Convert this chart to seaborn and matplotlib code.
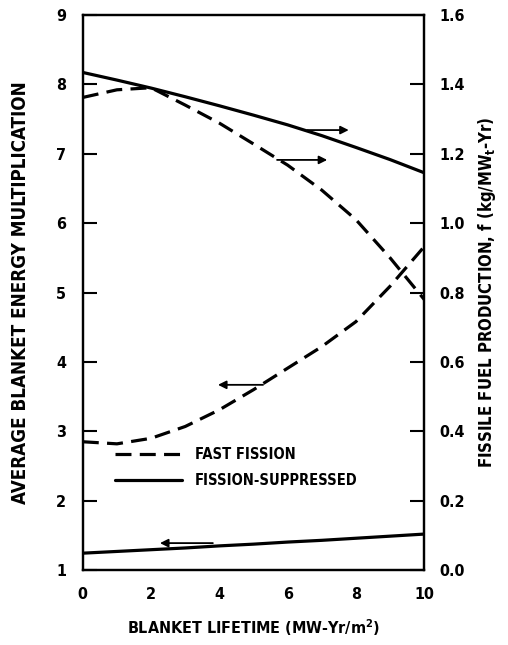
import matplotlib
matplotlib.use('Agg')
import matplotlib.pyplot as plt
import seaborn as sns
from matplotlib.lines import Line2D

# Data
lifetime = [0, 1, 2, 3, 4, 5, 6, 7, 8, 9, 10]

# fast fission blanket
ff_mult = [2.85, 2.82, 2.90, 3.07, 3.31, 3.60, 3.91, 4.22, 4.58, 5.09, 5.66]
ff_fuel = [1.362, 1.384, 1.39, 1.34, 1.288, 1.228, 1.167, 1.095, 1.01, 0.90, 0.78]

# fission-suppressed blanket
fs_mult = [1.245, 1.27, 1.295, 1.32, 1.35, 1.375, 1.405, 1.43, 1.46, 1.49, 1.52]
fs_fuel = [1.434, 1.412, 1.389, 1.364, 1.338, 1.311, 1.283, 1.252, 1.218, 1.183, 1.145]

left_ticks = [1, 2, 3, 4, 5, 6, 7, 8, 9]
right_ticks = [0.0, 0.2, 0.4, 0.6, 0.8, 1.0, 1.2, 1.4, 1.6]
x_ticks = [0, 2, 4, 6, 8, 10]

# arrows pointing to the axis each curve belongs to: (x0, x1, y, axis)
arrows = [
    (6.57, 7.79, 1.268, 'right'),
    (5.69, 7.16, 1.182, 'right'),
    (5.28, 3.96, 3.67, 'left'),
    (3.81, 2.26, 1.39, 'left'),
]

sns.set_style('white')
plt.rcParams['font.family'] = ['DejaVu Sans']
plt.rcParams['font.stretch'] = 'condensed'
plt.rcParams['font.weight'] = 'bold'
plt.rcParams['text.color'] = 'black'
plt.rcParams['axes.labelcolor'] = 'black'
plt.rcParams['xtick.color'] = 'black'
plt.rcParams['ytick.color'] = 'black'
plt.rcParams['mathtext.fontset'] = 'custom'
plt.rcParams['mathtext.bf'] = 'DejaVu Sans:bold'

fig = plt.figure(figsize=(5.08, 6.45), dpi=100)
ax = fig.add_axes([0.163, 0.116, 0.672, 0.861])
ax2 = ax.twinx()

dash = (0, (5, 2.6))
lw = 2.3

sns.lineplot(x=lifetime, y=ff_mult, ax=ax, color='black', linewidth=lw, linestyle=dash)
sns.lineplot(x=lifetime, y=fs_mult, ax=ax, color='black', linewidth=lw)
sns.lineplot(x=lifetime, y=ff_fuel, ax=ax2, color='black', linewidth=lw, linestyle=dash)
sns.lineplot(x=lifetime, y=fs_fuel, ax=ax2, color='black', linewidth=lw)

ax.set_xlim(0, 10)
ax.set_ylim(1, 9)
ax2.set_ylim(0, 1.6)
ax.set_xticks(x_ticks)
ax.set_yticks(left_ticks)
ax2.set_yticks(right_ticks)
ax2.set_yticklabels([f'{t:.1f}' for t in right_ticks])

for a in (ax, ax2):
    for s in a.spines.values():
        s.set_linewidth(1.6)
        s.set_color('black')
ax.tick_params(axis='both', direction='in', length=10, width=1.5, labelsize=11.5, pad=12)
ax2.tick_params(axis='y', direction='in', length=10, width=1.5, labelsize=11.5, pad=11)
ax.tick_params(axis='x', pad=12)
for lbl in ax.get_xticklabels() + ax.get_yticklabels() + ax2.get_yticklabels():
    lbl.set_fontweight('bold')

ax.set_xlabel('BLANKET LIFETIME (MW-Yr/m$^\\mathbf{2}$)', fontsize=11.5, fontweight='bold', labelpad=11)
ax.set_ylabel('AVERAGE BLANKET ENERGY MULTIPLICATION', fontsize=13.5, fontweight='bold', labelpad=19)
ax2.set_ylabel('FISSILE FUEL PRODUCTION, f (kg/MW$_\\mathbf{t}$-Yr)', fontsize=12, fontweight='bold', labelpad=8)

for x0, x1, y, side in arrows:
    target = ax2 if side == 'right' else ax
    target.annotate('', xy=(x1, y), xytext=(x0, y),
                    arrowprops=dict(arrowstyle='-|>', color='black', lw=1.3,
                                    mutation_scale=12, shrinkA=0, shrinkB=0))

handles = [Line2D([], [], color='black', linewidth=lw, linestyle=dash),
           Line2D([], [], color='black', linewidth=lw)]
ax.legend(handles, ['FAST FISSION', 'FISSION-SUPPRESSED'], loc='upper left',
          bbox_to_anchor=(0.055, 0.245), frameon=False, handlelength=4.6,
          handletextpad=0.9, labelspacing=0.75, prop={'weight': 'bold', 'size': 10.5})

fig.savefig('out.png', dpi=100)
